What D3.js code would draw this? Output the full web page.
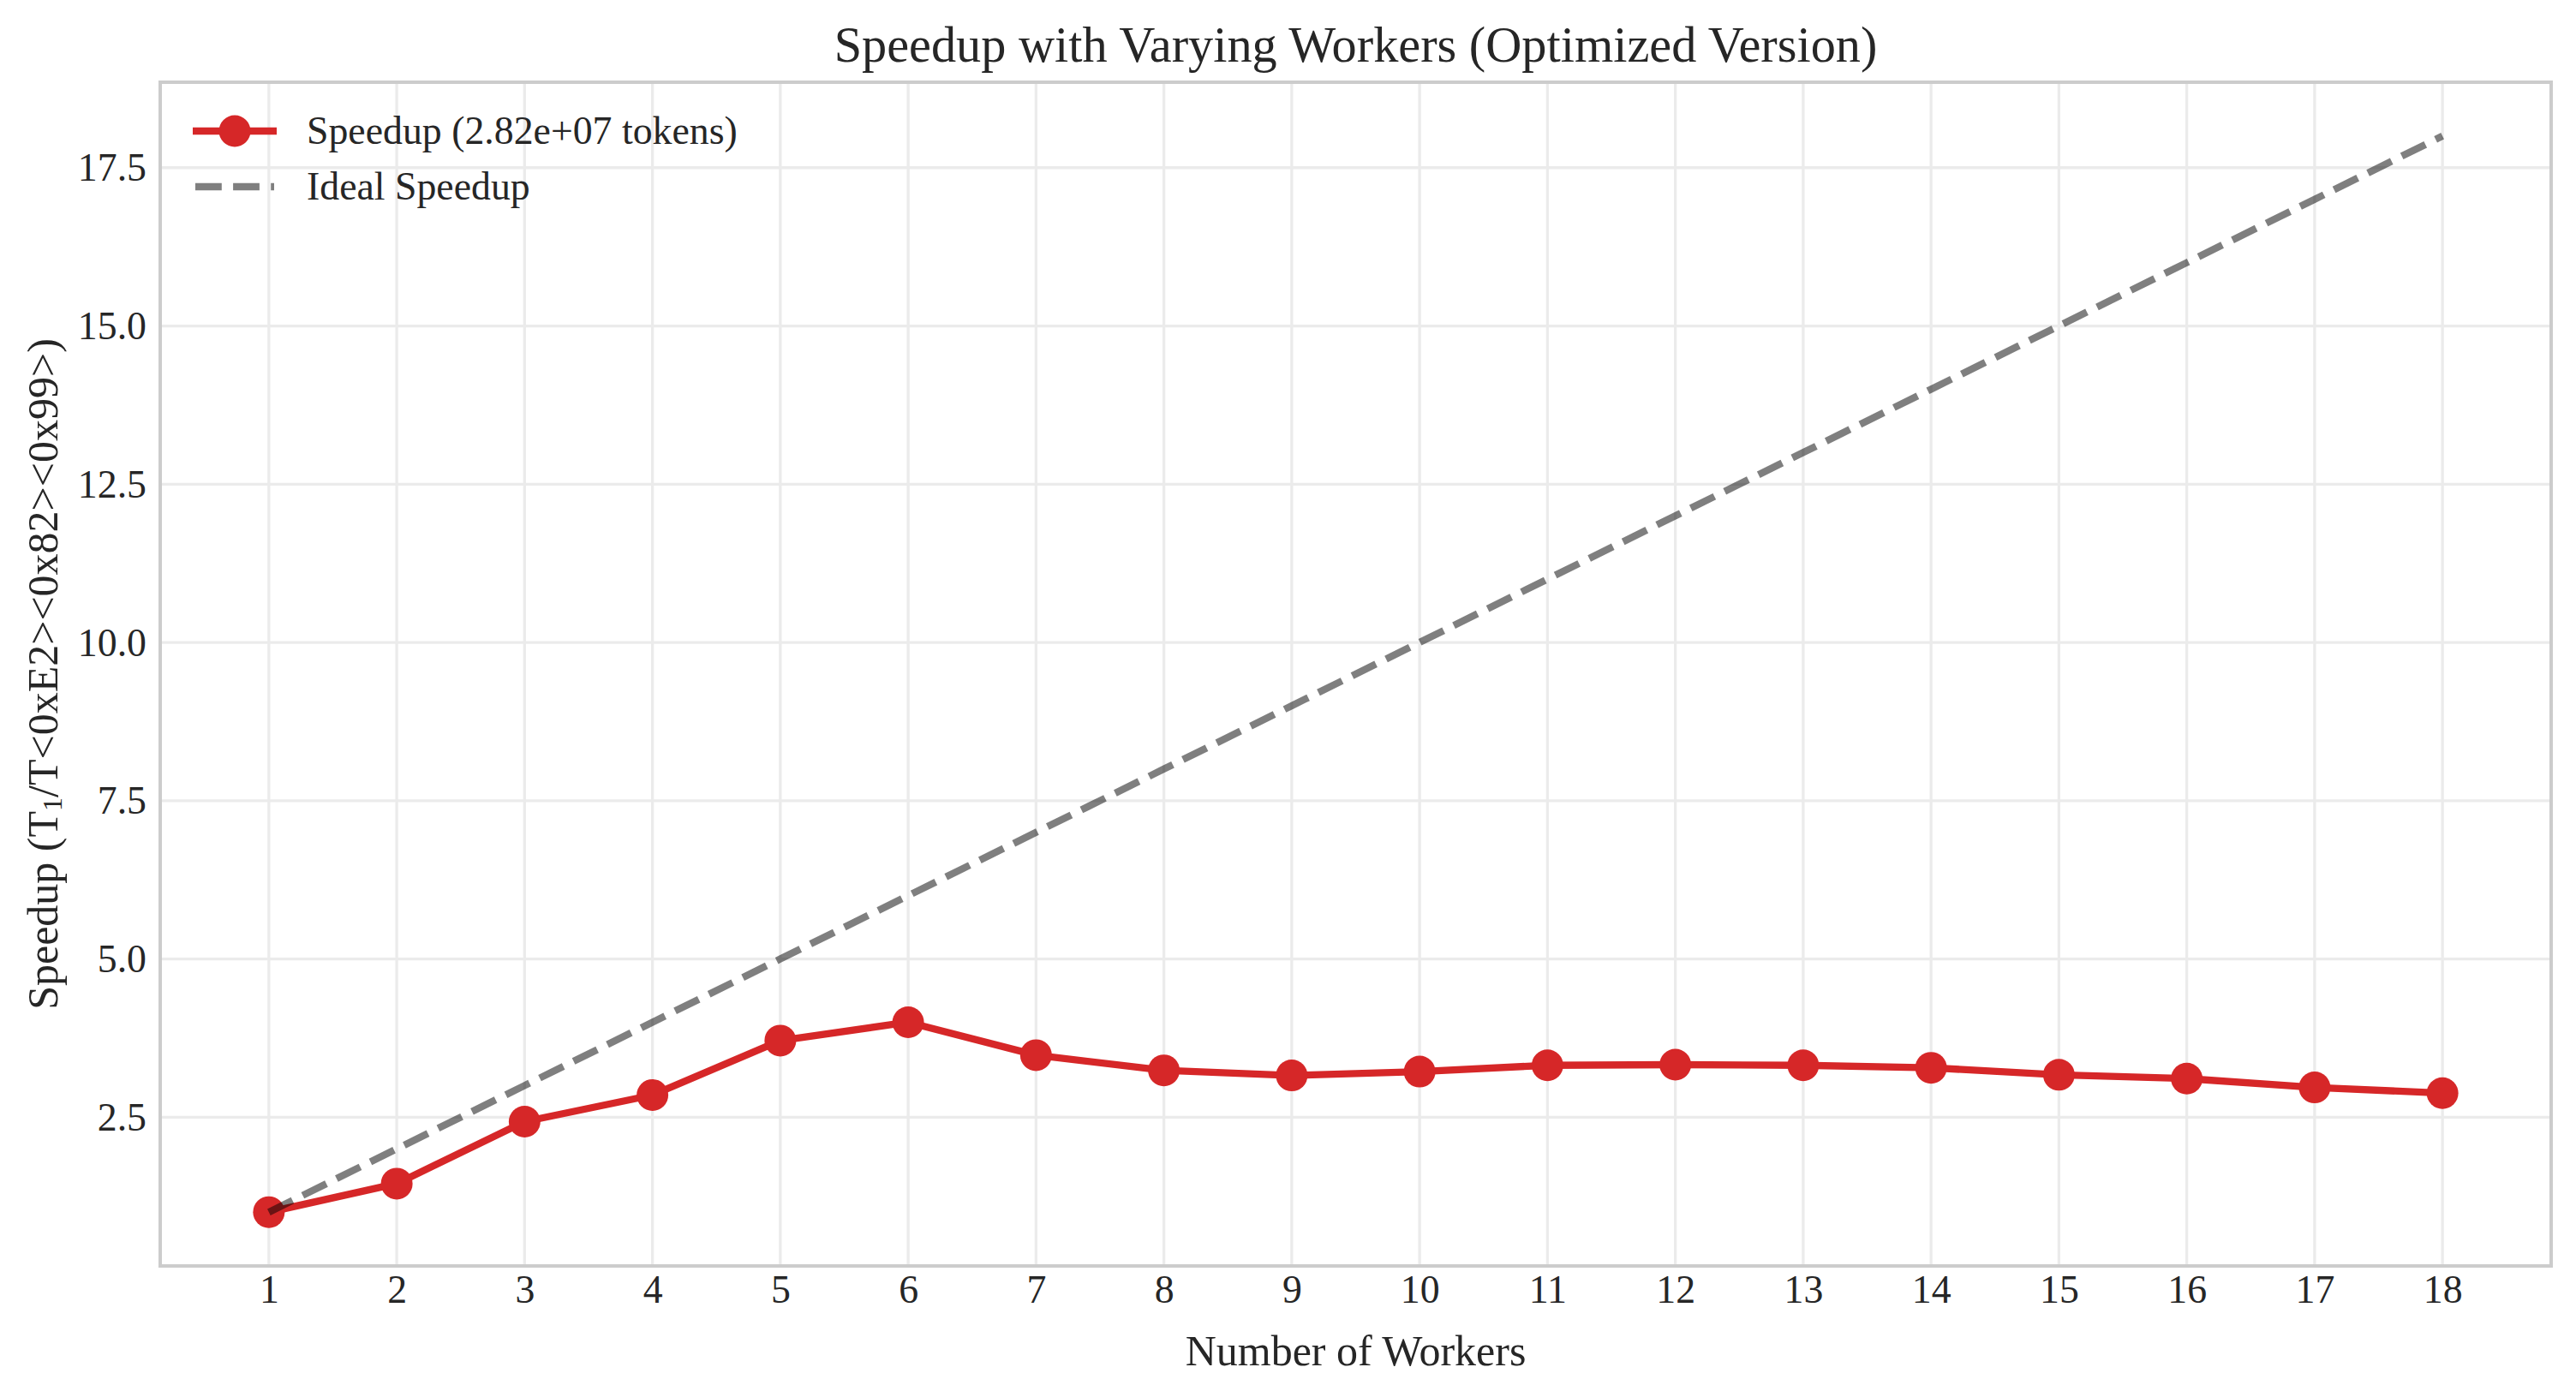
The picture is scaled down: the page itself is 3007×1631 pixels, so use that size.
<!DOCTYPE html>
<html>
<head>
<meta charset="utf-8">
<script src="https://cdn.jsdelivr.net/npm/d3@7"></script>
<style>
  html, body { margin: 0; padding: 0; background: #ffffff; }
  svg { display: block; }
  text { font-family: "Liberation Serif", "Times New Roman", serif; fill: #262626; }
</style>
</head>
<body>
<svg id="chart" width="3007" height="1631"></svg>
<script>
// ---- data ----
const workers = [1, 2, 3, 4, 5, 6, 7, 8, 9, 10, 11, 12, 13, 14, 15, 16, 17, 18];
const speedup = [1.00, 1.45, 2.43, 2.85, 3.71, 4.00, 3.48, 3.24, 3.16, 3.22, 3.32, 3.33, 3.32, 3.28, 3.17, 3.11, 2.97, 2.88];
const idealSpeedup = [1, 2, 3, 4, 5, 6, 7, 8, 9, 10, 11, 12, 13, 14, 15, 16, 17, 18];
const yTicks = [2.5, 5.0, 7.5, 10.0, 12.5, 15.0, 17.5];
const titleText = "Speedup with Varying Workers (Optimized Version)";
const xLabelText = "Number of Workers";
const yLabelParts = ["Speedup (T", "1", "/T<0xE2><0x82><0x99>)"];
const legendLabels = ["Speedup (2.82e+07 tokens)", "Ideal Speedup"];

// ---- layout ----
const W = 3007, H = 1631;
const plot = { left: 187, right: 2978, top: 96, bottom: 1478 };
const red = "#d62728";
const serif = "'Liberation Serif', 'Times New Roman', serif";

const svg = d3.select("#chart");

const x = d3.scaleLinear().domain([0.15, 18.85]).range([plot.left, plot.right]);
const y = d3.scaleLinear().domain([0.15, 18.85]).range([plot.bottom, plot.top]);

// grid
const grid = svg.append("g");
grid.selectAll("line.vg").data(workers).enter().append("line")
  .attr("x1", d => x(d)).attr("x2", d => x(d))
  .attr("y1", plot.top).attr("y2", plot.bottom)
  .attr("stroke", "#ebebeb").attr("stroke-width", 3.3);
grid.selectAll("line.hg").data(yTicks).enter().append("line")
  .attr("x1", plot.left).attr("x2", plot.right)
  .attr("y1", d => y(d)).attr("y2", d => y(d))
  .attr("stroke", "#ebebeb").attr("stroke-width", 3.3);

// axes (tick labels only, no tick marks)
const xAxis = d3.axisBottom(x).tickValues(workers).tickSize(0).tickPadding(0).tickFormat(d3.format("d"));
const gx = svg.append("g").attr("transform", `translate(0,${plot.bottom})`).call(xAxis)
  .attr("font-family", serif).attr("font-size", 45.8);
gx.select(".domain").remove();
gx.selectAll("text")
  .attr("y", 43).attr("dy", 0)
  .style("font-size", "45.8px").style("font-family", serif).attr("fill", "#262626");

const yAxis = d3.axisLeft(y).tickValues(yTicks).tickSize(0).tickPadding(0).tickFormat(d3.format(".1f"));
const gy = svg.append("g").attr("transform", `translate(${plot.left},0)`).call(yAxis)
  .attr("font-family", serif).attr("font-size", 45.8);
gy.select(".domain").remove();
gy.selectAll("text")
  .attr("x", -16).attr("dy", "0.33em")
  .style("font-size", "45.8px").style("font-family", serif).attr("fill", "#262626");

// frame (spines)
svg.append("rect")
  .attr("x", plot.left).attr("y", plot.top)
  .attr("width", plot.right - plot.left).attr("height", plot.bottom - plot.top)
  .attr("fill", "none").attr("stroke", "#cccccc").attr("stroke-width", 4);

// series line
const line = d3.line().x((d, i) => x(workers[i])).y(d => y(d));
svg.append("path").datum(speedup)
  .attr("d", line)
  .attr("fill", "none").attr("stroke", red).attr("stroke-width", 8.33)
  .attr("stroke-linejoin", "round").attr("stroke-linecap", "square");
svg.selectAll("circle.pt").data(speedup).enter().append("circle")
  .attr("cx", (d, i) => x(workers[i])).attr("cy", d => y(d))
  .attr("r", 18.5).attr("fill", red);

// ideal line
svg.append("path").datum(idealSpeedup)
  .attr("d", line)
  .attr("fill", "none").attr("stroke", "#000000").attr("stroke-opacity", 0.5)
  .attr("stroke-width", 8.33).attr("stroke-dasharray", "30.8,13.3");

// legend
const lg = svg.append("g");
lg.append("line").attr("x1", 225).attr("x2", 323).attr("y1", 153).attr("y2", 153)
  .attr("stroke", red).attr("stroke-width", 8.33).attr("stroke-linecap", "butt");
lg.append("circle").attr("cx", 274).attr("cy", 153).attr("r", 18.5).attr("fill", red);
lg.append("line").attr("x1", 228).attr("x2", 320).attr("y1", 218).attr("y2", 218)
  .attr("stroke", "#000").attr("stroke-opacity", 0.5).attr("stroke-width", 8.33)
  .attr("stroke-dasharray", "30.8,13.3");
lg.selectAll("text").data(legendLabels).enter().append("text")
  .attr("x", 358).attr("y", (d, i) => 153 + i * 65).attr("dy", "0.33em")
  .style("font-family", serif).style("font-size", "45.8px").text(d => d);

// title
svg.append("text")
  .attr("x", (plot.left + plot.right) / 2).attr("y", 72)
  .attr("text-anchor", "middle").style("font-family", serif).style("font-size", "58.3px")
  .text(titleText);

// x label
svg.append("text")
  .attr("x", (plot.left + plot.right) / 2).attr("y", 1594)
  .attr("text-anchor", "middle").style("font-family", serif).style("font-size", "50px")
  .text(xLabelText);

// y label (with subscript 1)
const yl = svg.append("text")
  .attr("transform", `translate(67,${(plot.top + plot.bottom) / 2}) rotate(-90)`)
  .attr("text-anchor", "middle").style("font-family", serif).style("font-size", "50px");
yl.append("tspan").text(yLabelParts[0]);
yl.append("tspan").attr("dy", 5).style("font-size", "32px").text(yLabelParts[1]);
yl.append("tspan").attr("dy", -5).text(yLabelParts[2]);
</script>
</body>
</html>
